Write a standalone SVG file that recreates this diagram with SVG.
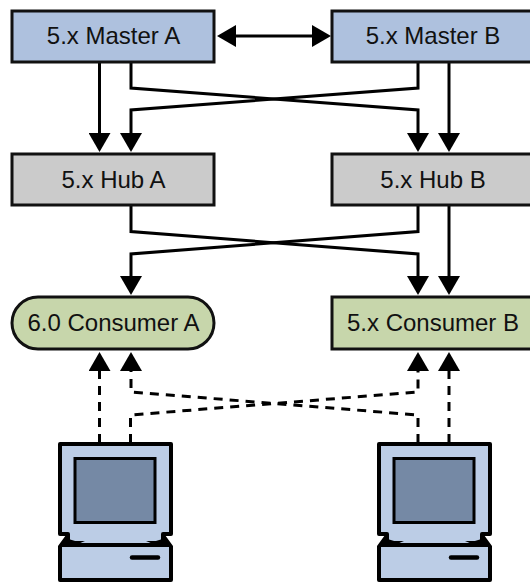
<svg xmlns="http://www.w3.org/2000/svg" width="530" height="582" viewBox="0 0 530 582">
<style>
text{font-family:"Liberation Sans",Arial,sans-serif;font-size:24px;fill:#111;text-anchor:middle}
.n{stroke:#111;stroke-width:3}
.m{fill:#aec1de}.h{fill:#cbcbcb}.c{fill:#c7d6ab}
.l{fill:none;stroke:#000;stroke-width:3}
.d{stroke-dasharray:9 7}
.b{fill:#bccde6;stroke:#000;stroke-width:4;stroke-linejoin:round}
</style>
<defs>
<marker id="a" markerUnits="userSpaceOnUse" markerWidth="22" markerHeight="22" refX="0" refY="11" orient="auto-start-reverse"><path d="M0 0L19 11L0 22Z" fill="#000"/></marker>
<g id="pc">
<path class="b" d="M60 444H171V534H163V541L150 545H81L68 541V534H60Z"/>
<path d="M66 535L70 541H85L73 546H58ZM165 535L161 541H146L158 546H173Z" fill="#000"/>
<rect x="75" y="458.500" width="80" height="64" fill="#7589a5" stroke="#000" stroke-width="3"/>
<rect x="60" y="546" width="111" height="35" fill="#bccde6"/>
<path d="M62 546H169" stroke="#000" stroke-width="2"/>
<path d="M60 546V580H171V546" fill="none" stroke="#000" stroke-width="4" stroke-linejoin="round"/>
<path d="M132 557.500H158" stroke="#000" stroke-width="4.500" stroke-linecap="round"/>
</g>
</defs>
<g id="connectors">
<path class="l" d="M236 36H312" marker-start="url(#a)" marker-end="url(#a)"/>
<path class="l" d="M99.500 63V133" marker-end="url(#a)"/>
<path class="l" d="M131 63V88L418 110V133" marker-end="url(#a)"/>
<path class="l" d="M418 63V88L131 110V133" marker-end="url(#a)"/>
<path class="l" d="M449 63V133" marker-end="url(#a)"/>
<path class="l" d="M131 206V231.500L418 254V276" marker-end="url(#a)"/>
<path class="l" d="M418 206V231.500L131 254V276" marker-end="url(#a)"/>
<path class="l" d="M449 206V276" marker-end="url(#a)"/>
<path class="l d" d="M99.500 443V371" marker-end="url(#a)"/>
<path class="l d" d="M130.500 443V415L418 392V371" marker-end="url(#a)"/>
<path class="l d" d="M418 443V415L131 392V371" marker-end="url(#a)"/>
<path class="l d" d="M449 443V371" marker-end="url(#a)"/>
</g>
<g id="master-a"><rect class="n m" x="12" y="11" width="202" height="51"/><text x="113.500" y="44">5.x Master A</text></g>
<g id="master-b"><rect class="n m" x="332" y="11" width="202" height="51"/><text x="433" y="44">5.x Master B</text></g>
<g id="hub-a"><rect class="n h" x="12" y="154" width="202" height="51"/><text x="113.500" y="188">5.x Hub A</text></g>
<g id="hub-b"><rect class="n h" x="332" y="154" width="202" height="51"/><text x="433" y="188">5.x Hub B</text></g>
<g id="consumer-a"><rect class="n c" x="12" y="297" width="202" height="52" rx="26"/><text x="113.500" y="331">6.0 Consumer A</text></g>
<g id="consumer-b"><rect class="n c" x="332" y="297" width="202" height="52"/><text x="433" y="331">5.x Consumer B</text></g>
<g id="client-a"><use href="#pc"/></g>
<g id="client-b"><use href="#pc" x="319"/></g>
</svg>
